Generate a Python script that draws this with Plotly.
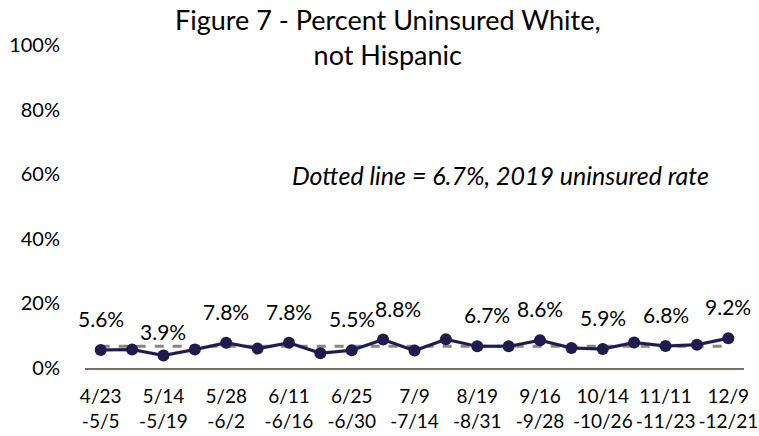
import plotly.graph_objects as go

weeks = list(range(21))
tick_idx = [0, 2, 4, 6, 8, 10, 12, 14, 16, 18, 20]
tick_text = ["4/23<br>-5/5", "5/14<br>-5/19", "5/28<br>-6/2", "6/11<br>-6/16", "6/25<br>-6/30",
             "7/9<br>-7/14", "8/19<br>-8/31", "9/16<br>-9/28", "10/14<br>-10/26", "11/11<br>-11/23",
             "12/9<br>-12/21"]
pct_uninsured = [5.6, 5.7, 3.9, 5.7, 7.8, 6.0, 7.8, 4.6, 5.5, 8.8, 5.4,
                 8.9, 6.7, 6.7, 8.6, 6.2, 5.9, 7.9, 6.8, 7.2, 9.2]
ci_half = [0.6] * 21
baseline_2019 = 6.7
label_idx = [0, 2, 4, 6, 8, 9, 12, 14, 16, 18, 20]
label_dx = [0, 0, 0, 0, 0, 15, 10, 0, 0, 0, 0]
label_dy = [0, -8, 0, 0, 0, 0, 0, 0, 0, 0, 0]

FONT = "Lato"
fig = go.Figure()

upper = [v + h for v, h in zip(pct_uninsured, ci_half)]
lower = [v - h for v, h in zip(pct_uninsured, ci_half)]
fig.add_trace(go.Scatter(x=weeks, y=upper, mode="lines", line=dict(width=0),
                         hoverinfo="skip", showlegend=False))
fig.add_trace(go.Scatter(x=weeks, y=lower, mode="lines", line=dict(width=0),
                         fill="tonexty", fillcolor="rgba(160,150,225,0.45)",
                         hoverinfo="skip", showlegend=False))
fig.add_trace(go.Scatter(x=weeks, y=[baseline_2019] * len(weeks), mode="lines",
                         line=dict(color="#8a8580", width=3, dash="dash"),
                         hoverinfo="skip", showlegend=False))
fig.add_trace(go.Scatter(x=weeks, y=pct_uninsured, mode="lines+markers",
                         line=dict(color="#1f1b4d", width=3),
                         marker=dict(color="#1f1b4d", size=12),
                         showlegend=False))

for i, dx, dy in zip(label_idx, label_dx, label_dy):
    fig.add_annotation(x=weeks[i], y=pct_uninsured[i], text=f"{pct_uninsured[i]:.1f}%",
                       showarrow=False, yanchor="bottom", yshift=17 + dy, xshift=dx,
                       font=dict(family=FONT, size=21, color="#000000"))

fig.add_annotation(x=0.63, y=0.597, xref="paper", yref="paper",
                   text="<i>Dotted line = 6.7%, 2019 uninsured rate</i>", showarrow=False,
                   font=dict(family=FONT, size=25, color="#000000"))

# chart title
fig.add_annotation(x=0.46, y=1.026, xref="paper", yref="paper", yanchor="middle",
                   text="Figure 7 - Percent Uninsured White,<br>not Hispanic", showarrow=False,
                   align="center", font=dict(family=FONT, size=27, color="#000000"))

fig.update_layout(
    width=759, height=436,
    margin=dict(l=85, r=15, t=45, b=68, autoexpand=False),
    paper_bgcolor="white", plot_bgcolor="white",
    font=dict(family=FONT, color="#000000"),
)
fig.update_xaxes(range=[-0.5, 20.5], tickmode="array", tickvals=tick_idx, ticktext=tick_text,
                 tickangle=0, automargin=False, ticklabeloverflow="allow",
                 showgrid=False, zeroline=False, showline=True, linecolor="#7a6e6c", linewidth=2,
                 ticks="", ticklabelstandoff=10, tickfont=dict(family=FONT, size=19, color="#000000"))
fig.update_yaxes(range=[0, 100], tickmode="array", tickvals=[0, 20, 40, 60, 80, 100],
                 ticktext=["0%", "20%", "40%", "60%", "80%", "100%"], automargin=False,
                 showgrid=False, zeroline=False, showline=False, ticks="",
                 ticklabelstandoff=24, tickfont=dict(family=FONT, size=20, color="#000000"))

# remove the page's default 8px body margin so the figure fills the window exactly
fig.write_html("out.html", config={"displayModeBar": False},
               post_script="document.body.style.margin='0';")
